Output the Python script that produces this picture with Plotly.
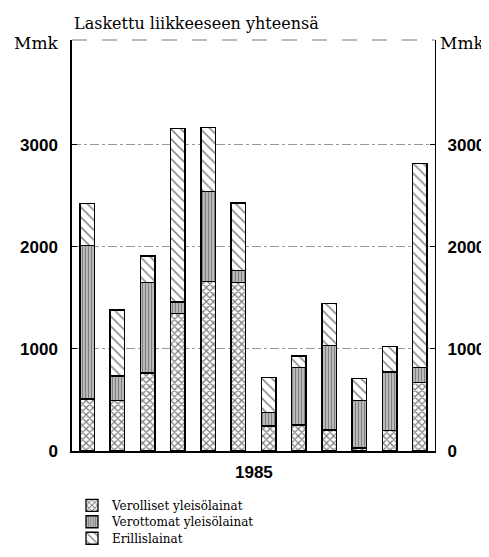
import plotly.graph_objects as go

months = ["I", "II", "III", "IV", "V", "VI", "VII", "VIII", "IX", "X", "XI", "XII"]
verolliset = [510, 495, 765, 1350, 1660, 1650, 245, 255, 205, 30, 200, 670]
verottomat = [1505, 240, 885, 110, 880, 120, 130, 565, 825, 465, 575, 150]
erillis = [410, 645, 260, 1700, 625, 660, 345, 110, 415, 215, 250, 1995]
names = ["Verolliset yleisölainat", "Verottomat yleisölainat", "Erillislainat"]
tickvals = [0, 1000, 2000, 3000]
ticktext = ["0", "1000", "2000", "3000"]

SERIF = "DejaVu Serif"
SANS = "Liberation Sans"

fig = go.Figure()
specs = [
    (verolliset, names[0], dict(shape="x", size=5, solidity=0.45), "legend"),
    (verottomat, names[1], dict(shape="|", size=3, solidity=0.7), "legend2"),
    (erillis, names[2], dict(shape="\\", size=7, solidity=0.22), "legend3"),
]
for vals, name, pat, lg in specs:
    fig.add_trace(go.Bar(
        x=months, y=vals, name=name, legend=lg,
        marker=dict(color="white",
                    line=dict(color="black", width=1.3),
                    pattern=dict(fgcolor="black", bgcolor="white", **pat)),
    ))

# invisible trace for right axis
fig.add_trace(go.Scatter(x=[months[0]], y=[0], yaxis="y2", mode="markers",
                         marker=dict(opacity=0), showlegend=False, hoverinfo="skip"))

def legend_at(ypix):
    return dict(x=0.0, y=(456 - ypix) / 424, xanchor="left", yanchor="middle",
                font=dict(family=SERIF, size=12, color="black"),
                bgcolor="rgba(0,0,0,0)", borderwidth=0, itemwidth=30)

yrange = [0, 4025]
fig.update_layout(
    width=489, height=557,
    margin=dict(l=62, r=57, t=32, b=101),
    paper_bgcolor="white", plot_bgcolor="white",
    barmode="stack", bargap=0.52,
    showlegend=True,
    legend=legend_at(512),
    legend2=legend_at(529),
    legend3=legend_at(546),
    xaxis=dict(showticklabels=False, ticks="", showline=True, linecolor="black",
               linewidth=1.5, showgrid=False, range=[-0.5, 11.5], zeroline=False),
    yaxis=dict(range=yrange, tickvals=tickvals, ticktext=ticktext,
               ticks="inside", ticklen=5, tickcolor="black",
               ticklabelstandoff=9,
               tickfont=dict(family=SANS, size=17, color="black", weight="bold"),
               showline=True, linecolor="black", linewidth=1.5,
               showgrid=True, gridcolor="#999", griddash="dashdot", gridwidth=1,
               zeroline=False),
    yaxis2=dict(range=yrange, tickvals=tickvals, ticktext=ticktext,
                overlaying="y", side="right",
                ticks="inside", ticklen=5, tickcolor="black",
                ticklabelstandoff=8,
                tickfont=dict(family=SANS, size=17, color="black", weight="bold"),
                showline=True, linecolor="black", linewidth=1.2,
                showgrid=False, zeroline=False),
    shapes=[dict(type="line", xref="paper", yref="paper", x0=0, x1=1, y0=1, y1=1,
                 line=dict(color="#777", width=1.2, dash="longdash"))],
    annotations=[
        dict(text="Laskettu liikkeeseen yhteensä", xref="paper", yref="paper",
             x=0.0, y=1.040, xanchor="left", yanchor="middle", showarrow=False,
             font=dict(family=SERIF, size=16, color="black")),
        dict(text="Mmk", xref="paper", yref="paper", x=-0.03, y=0.993,
             xanchor="right", yanchor="middle", showarrow=False,
             font=dict(family=SERIF, size=17, color="black")),
        dict(text="Mmk", xref="paper", yref="paper", x=1.008, y=0.993,
             xanchor="left", yanchor="middle", showarrow=False,
             font=dict(family=SERIF, size=17, color="black")),
        dict(text="<b>1985</b>", xref="paper", yref="paper", x=0.5, y=-0.052,
             xanchor="center", yanchor="middle", showarrow=False,
             font=dict(family=SANS, size=17, color="black")),
    ],
)

fig.write_html("out.html")
